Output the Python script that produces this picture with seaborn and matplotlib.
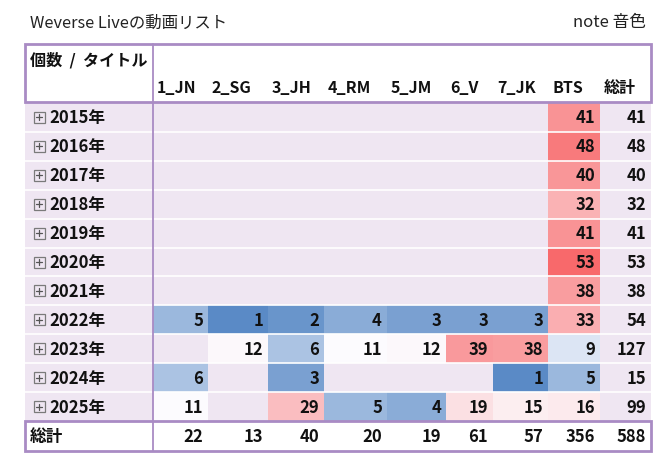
import numpy as np
import pandas as pd
import seaborn as sns
import matplotlib.pyplot as plt
from matplotlib.colors import LinearSegmentedColormap, TwoSlopeNorm
from matplotlib.patches import Rectangle

sns.set_theme(style='white')
plt.rcParams['font.family'] = ['Noto Sans CJK JP', 'DejaVu Sans']

years = ['2015年', '2016年', '2017年', '2018年', '2019年', '2020年',
         '2021年', '2022年', '2023年', '2024年', '2025年']
members = ['1_JN', '2_SG', '3_JH', '4_RM', '5_JM', '6_V', '7_JK', 'BTS']
n = np.nan
jn = [n, n, n, n, n, n, n, 5, n, 6, 11]
sg = [n, n, n, n, n, n, n, 1, 12, n, n]
jh = [n, n, n, n, n, n, n, 2, 6, 3, 29]
rm = [n, n, n, n, n, n, n, 4, 11, n, 5]
jm = [n, n, n, n, n, n, n, 3, 12, n, 4]
v = [n, n, n, n, n, n, n, 3, 39, n, 19]
jk = [n, n, n, n, n, n, n, 3, 38, 1, 15]
bts = [41, 48, 40, 32, 41, 53, 38, 33, 9, 5, 16]

df = pd.DataFrame(dict(zip(members, [jn, sg, jh, rm, jm, v, jk, bts])), index=years)
row_tot = df.sum(axis=1)
col_tot = df.sum(axis=0)
grand = int(row_tot.sum())

# excel-like 3 colour scale
cmap = LinearSegmentedColormap.from_list('xl', ['#5A8AC6', '#FCFCFF', '#F8696B'])
vals = df.stack().values
norm = TwoSlopeNorm(vmin=vals.min(), vcenter=np.median(vals), vmax=vals.max())

W, H = 668, 464
lav = '#EFE6F2'
purple = '#A98BC4'
fig = plt.figure(figsize=(W / 100, H / 100), dpi=100)


def px_axes(x0, y0, w, h):
    return fig.add_axes([x0 / W, 1 - (y0 + h) / H, w / W, h / H])


# background layer
bg = px_axes(0, 0, W, H)
bg.set_xlim(0, W)
bg.set_ylim(H, 0)
bg.axis('off')
bg.set_zorder(0)

col_edges = [153, 208, 268, 324, 387, 446, 493, 548, 600, 651]
top, bot = 104, 422
nrows = len(years)
rh = (bot - top) / nrows

bg.add_patch(Rectangle((25, top), 128, bot - top, color=lav, lw=0))
bg.add_patch(Rectangle((600, top), 51, bot - top, color=lav, lw=0))

# one heatmap per column so widths follow the reference
for k, m in enumerate(members):
    x0, x1 = col_edges[k], col_edges[k + 1]
    ax = px_axes(x0, top, x1 - x0, bot - top)
    ax.set_zorder(1)
    sns.heatmap(df[[m]], ax=ax, cmap=cmap, norm=norm, cbar=False,
                xticklabels=False, yticklabels=False, linewidths=0)
    ax.set_facecolor(lav)
    ax.set_xlabel('')
    ax.set_ylabel('')
    for i, val in enumerate(df[m]):
        if not np.isnan(val):
            ax.text(1 - 5 / (x1 - x0), i + 0.5, f'{int(val)}', ha='right', va='center',
                    fontsize=12, fontweight='bold', color='#111111')

# overlay layer: lines, borders and text
ov = px_axes(0, 0, W, H)
ov.set_xlim(0, W)
ov.set_ylim(H, 0)
ov.axis('off')
ov.patch.set_alpha(0)
ov.set_zorder(2)

for i in range(1, nrows):
    y = top + i * rh
    ov.plot([25, 651], [y, y], color='white', lw=1.2)

ov.add_patch(Rectangle((25, 45), 626, 58, fill=False, ec=purple, lw=2))
ov.add_patch(Rectangle((25, 422), 626, 30, fill=False, ec=purple, lw=2))
ov.plot([152.5, 152.5], [45, 452], color=purple, lw=1.3)

ov.text(30, 23, 'Weverse Liveの動画リスト', ha='left', va='center', fontsize=11.8, color='#222222')
ov.text(646, 23, 'note 音色', ha='right', va='center', fontsize=12, color='#222222')
ov.text(30, 60, '個数  /  タイトル', ha='left', va='center', fontsize=11.6,
        fontweight='bold', color='#111111')

for k, m in enumerate(members + ['総計']):
    ov.text(col_edges[k] + 4, 88, m, ha='left', va='center', fontsize=11.5,
            fontweight='bold', color='#111111')

for i, yr in enumerate(years):
    yc = top + (i + 0.5) * rh
    ov.add_patch(Rectangle((33.5, yc - 5.5), 11, 11, fill=False, ec='#7a7a7a', lw=0.9))
    ov.plot([36, 42], [yc, yc], color='#555555', lw=0.9)
    ov.plot([39, 39], [yc - 3, yc + 3], color='#555555', lw=0.9)
    ov.text(49, yc, yr, ha='left', va='center', fontsize=12, fontweight='bold', color='#111111')
    ov.text(646, yc, f'{int(row_tot[yr])}', ha='right', va='center', fontsize=12,
            fontweight='bold', color='#111111')

ov.text(30, 437, '総計', ha='left', va='center', fontsize=12, fontweight='bold', color='#111111')
for k, m in enumerate(members):
    ov.text(col_edges[k + 1] - 5, 437, f'{int(col_tot[m])}', ha='right', va='center',
            fontsize=12, fontweight='bold', color='#111111')
ov.text(646, 437, f'{grand}', ha='right', va='center', fontsize=12,
        fontweight='bold', color='#111111')

fig.savefig('out.png', dpi=100)
